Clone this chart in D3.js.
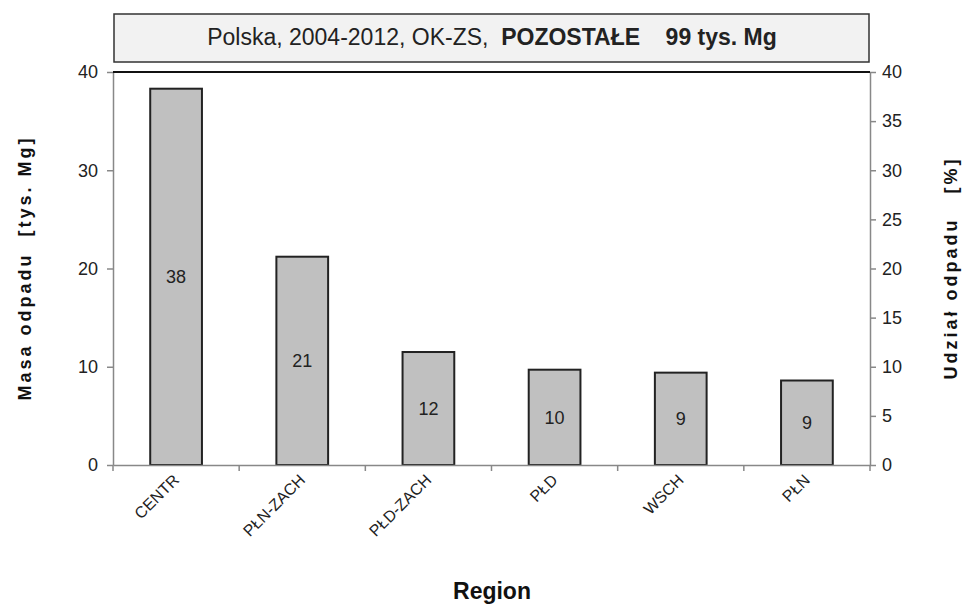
<!DOCTYPE html>
<html>
<head>
<meta charset="utf-8">
<script src="https://cdn.jsdelivr.net/npm/d3@7"></script>
<style>
  body { margin: 0; background: #fff; }
  svg { display: block; font-family: Arial, "Liberation Sans", sans-serif; }
</style>
</head>
<body>
<svg id="chart" width="966" height="605"></svg>
<script>
const categories = ["CENTR", "PŁN-ZACH", "PŁD-ZACH", "PŁD", "WSCH", "PŁN"];
const massValues = [38.3, 21.2, 11.5, 9.7, 9.4, 8.6];
const shareLabels = [38, 21, 12, 10, 9, 9];
const leftTicks = [0, 10, 20, 30, 40];
const rightTicks = [0, 5, 10, 15, 20, 25, 30, 35, 40];

const svg = d3.select("#chart");
const L = 113, R = 870, T = 72, B = 465;
const FONT = "Arial, 'Liberation Sans', sans-serif";

const x = d3.scaleBand().domain(categories).range([L, R]).paddingInner(0.59).paddingOuter(0.295);
const xOuter = d3.scaleBand().domain(categories).range([L, R]);
const yL = d3.scaleLinear().domain([0, 40]).range([B, T]);
const yR = d3.scaleLinear().domain([0, 40]).range([B, T]);

// Title box
svg.append("rect").attr("x", 114).attr("y", 14).attr("width", 755).attr("height", 48)
  .attr("fill", "#f2f2f2").attr("stroke", "#333").attr("stroke-width", 1.5);
const title = svg.append("text").attr("x", 492).attr("y", 45).attr("text-anchor", "middle")
  .attr("font-size", 23).attr("fill", "#222").style("white-space", "pre");
title.append("tspan").text("Polska, 2004-2012, OK-ZS,  ");
title.append("tspan").attr("font-weight", "bold").text("POZOSTAŁE    99 tys. Mg");

// Bars
svg.append("g").selectAll("rect").data(categories).join("rect")
  .attr("x", d => x(d)).attr("y", (d, i) => yL(massValues[i]))
  .attr("width", x.bandwidth()).attr("height", (d, i) => B - yL(massValues[i]))
  .attr("fill", "#c0c0c0").attr("stroke", "#222").attr("stroke-width", 2);

// Value labels
svg.append("g").selectAll("text").data(categories).join("text")
  .attr("x", d => x(d) + x.bandwidth() / 2)
  .attr("y", (d, i) => (yL(massValues[i]) + B) / 2)
  .attr("dy", "0.35em").attr("text-anchor", "middle")
  .attr("font-size", 18).attr("fill", "#222")
  .text((d, i) => shareLabels[i]);

// Left axis
const gL = svg.append("g").attr("transform", `translate(${L},0)`)
  .call(d3.axisLeft(yL).tickValues(leftTicks).tickSize(6).tickSizeOuter(0).tickPadding(9));
gL.select(".domain").attr("stroke", "#888").attr("stroke-width", 1.5);
gL.selectAll(".tick line").attr("stroke", "#888").attr("stroke-width", 1.5);
gL.selectAll(".tick text").attr("font-size", 18).attr("fill", "#222").attr("font-family", FONT);

// Right axis
const gR = svg.append("g").attr("transform", `translate(${R},0)`)
  .call(d3.axisRight(yR).tickValues(rightTicks).tickSize(6).tickSizeOuter(0).tickPadding(6));
gR.select(".domain").attr("stroke", "#888").attr("stroke-width", 1.5);
gR.selectAll(".tick line").attr("stroke", "#888").attr("stroke-width", 1.5);
gR.selectAll(".tick text").attr("font-size", 18).attr("fill", "#222").attr("font-family", FONT);

// X axis
const gX = svg.append("g").attr("transform", `translate(0,${B})`)
  .call(d3.axisBottom(xOuter).tickSize(0).tickSizeOuter(0).tickFormat(""));
gX.select(".domain").attr("stroke", "#888").attr("stroke-width", 1.5);
gX.selectAll(".tick").remove();
const bounds = categories.map(c => xOuter(c)).concat([R]);
gX.selectAll("line.sep").data(bounds).join("line").attr("class", "sep")
  .attr("x1", d => d).attr("x2", d => d).attr("y1", 0).attr("y2", 6)
  .attr("stroke", "#888").attr("stroke-width", 1.5);

// X labels
svg.append("g").selectAll("text").data(categories).join("text")
  .attr("transform", d => `translate(${xOuter(d) + xOuter.bandwidth() / 2},${B + 12}) rotate(-45)`)
  .attr("text-anchor", "end").attr("dy", "0.35em")
  .attr("font-size", 16).attr("fill", "#222").text(d => d);

// Top border of plot area
svg.append("line").attr("x1", L).attr("x2", R).attr("y1", T).attr("y2", T)
  .attr("stroke", "#111").attr("stroke-width", 2);

// Axis titles
svg.append("text").attr("transform", "translate(31,268) rotate(-90)")
  .attr("text-anchor", "middle").attr("font-size", 18).attr("font-weight", "bold").attr("fill", "#111")
  .attr("letter-spacing", 3).style("white-space", "pre").text("Masa odpadu  [tys. Mg]");
svg.append("text").attr("transform", "translate(957,268) rotate(-90)")
  .attr("text-anchor", "middle").attr("font-size", 18).attr("font-weight", "bold").attr("fill", "#111")
  .attr("letter-spacing", 3).style("white-space", "pre").text("Udział odpadu   [%]");
svg.append("text").attr("x", 492).attr("y", 599).attr("text-anchor", "middle")
  .attr("font-size", 23).attr("font-weight", "bold").attr("fill", "#111").text("Region");
</script>
</body>
</html>
